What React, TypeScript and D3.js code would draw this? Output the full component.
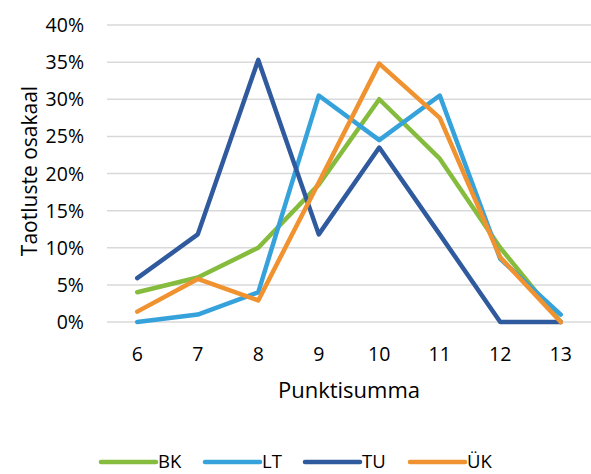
import React, { useEffect, useRef } from "react";
import * as d3 from "d3";

const categories = ["6", "7", "8", "9", "10", "11", "12", "13"];
const seriesNames = ["BK", "LT", "TU", "ÜK"];
const bkValues = [4, 6, 10, 18.5, 30, 22, 10, 0];
const ltValues = [0, 1, 4, 30.5, 24.5, 30.5, 8.5, 1];
const tuValues = [5.9, 11.8, 35.3, 11.8, 23.5, 11.8, 0, 0];
const ukValues = [1.4, 5.8, 2.9, 18.8, 34.8, 27.5, 8.7, 0];
const yTicks = [0, 5, 10, 15, 20, 25, 30, 35, 40];
const colors = ["#86BC3E", "#36A2DB", "#305A9E", "#F0922F"];

export default function App() {
  const ref = useRef<SVGSVGElement>(null);
  useEffect(() => {
    const svg = d3.select(ref.current);
    svg.selectAll("*").remove();
    const font = "'Open Sans', sans-serif";
    const x = d3.scaleBand().domain(categories).range([107, 591]);
    const y = d3.scaleLinear().domain([0, 40]).range([322, 25]);
    const g = svg.append("g");
    g.selectAll("line.grid").data(yTicks).enter().append("line")
      .attr("x1", 107).attr("x2", 591)
      .attr("y1", d => y(d)).attr("y2", d => y(d))
      .attr("stroke", "#d9d9d9").attr("stroke-width", 1.5);
    g.selectAll("text.yt").data(yTicks).enter().append("text")
      .attr("x", 84).attr("y", d => y(d)).attr("dy", "0.36em")
      .attr("text-anchor", "end").attr("font-family", font).attr("font-size", 19.5)
      .attr("fill", "#000").text(d => d + "%");
    g.selectAll("text.xt").data(categories).enter().append("text")
      .attr("x", d => (x(d) as number) + x.bandwidth() / 2).attr("y", 361)
      .attr("text-anchor", "middle").attr("font-family", font).attr("font-size", 19.5)
      .attr("fill", "#000").text(d => d);
    g.append("text").attr("x", 349).attr("y", 398).attr("text-anchor", "middle")
      .attr("font-family", font).attr("font-size", 22).text("Punktisumma");
    g.append("text").attr("transform", "translate(37,171) rotate(-90)")
      .attr("text-anchor", "middle").attr("font-family", font).attr("font-size", 21)
      .text("Taotluste osakaal");
    const all = [bkValues, ltValues, tuValues, ukValues];
    const line = d3.line<number>()
      .x((_, i) => (x(categories[i]) as number) + x.bandwidth() / 2)
      .y(d => y(d));
    all.forEach((vals, k) => {
      g.append("path").attr("d", line(vals) as string).attr("fill", "none")
        .attr("stroke", colors[k]).attr("stroke-width", 4.5)
        .attr("stroke-linejoin", "round").attr("stroke-linecap", "round");
    });
    const legX = [101, 205, 305, 410];
    seriesNames.forEach((n, k) => {
      g.append("line").attr("x1", legX[k]).attr("x2", legX[k] + 55)
        .attr("y1", 462).attr("y2", 462).attr("stroke", colors[k])
        .attr("stroke-width", 4.5).attr("stroke-linecap", "round");
      g.append("text").attr("x", legX[k] + 57).attr("y", 461).attr("dy", "0.36em")
        .attr("font-family", font).attr("font-size", 18.5).text(n);
    });
  }, []);
  return (
    <svg ref={ref} width={591} height={474}
      style={{ position: "absolute", left: 0, top: 0, background: "#fff" }} />
  );
}
